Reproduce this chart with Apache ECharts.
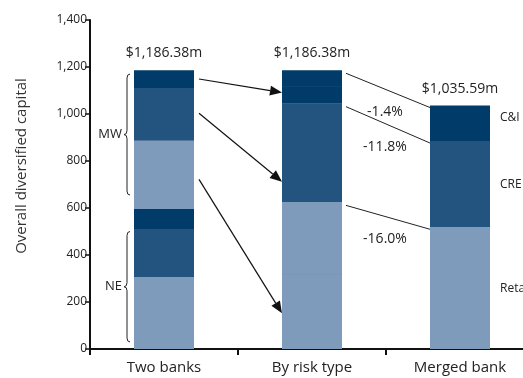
<!DOCTYPE html>
<html>
<head>
<meta charset="utf-8">
<script src="https://cdn.jsdelivr.net/npm/echarts@6/dist/echarts.min.js"></script>
<style>
  html, body { margin: 0; padding: 0; background: #fff; }
  #chart { width: 523px; height: 378px; }
</style>
</head>
<body>
<div id="chart"></div>
<script>
// categories and values
const categories = ["Two banks", "By risk type", "Merged bank"];
const twoBanks = [305, 206, 85, 290, 225, 75];          // NE retail, NE CRE, NE C&I, MW retail, MW CRE, MW C&I
const twoBanksTypes = ["Retail", "CRE", "C&I", "Retail", "CRE", "C&I"];
const byRisk = [318, 306, 214, 206, 72, 70];            // retail NE/MW, CRE NE/MW, C&I NE/MW
const byRiskTypes = ["Retail", "Retail", "CRE", "CRE", "C&I", "C&I"];
const merged = [518, 367, 151];
const mergedTypes = ["Retail", "CRE", "C&I"];
const totals = ["$1,186.38m", "$1,186.38m", "$1,035.59m"];
const changes = ["-1.4%", "-11.8%", "-16.0%"];          // C&I, CRE, Retail
const typeNames = ["C&I", "CRE", "Retail"];
const groups = ["MW", "NE"];
const groupRanges = [[1170, 655], [500, 30]];           // brace spans, in capital units
const arrowsFrom = [1149, 1003, 722];
const arrowsTo = [1091, 712, 152];
const yTitle = "Overall diversified capital";

const colors = { "C&I": "#013b69", "CRE": "#23537f", "Retail": "#7f9bbb" };
const font = "Open Sans";

const chart = echarts.init(document.getElementById("chart"));

function item(v, type, label) {
  if (v == null) return "-";
  const d = { value: v, itemStyle: { color: colors[type] } };
  if (label) {
    d.label = { show: true, position: "top", distance: 10, formatter: label,
      color: "#222", fontSize: 14, fontFamily: font };
  }
  return d;
}

const series = [];
for (let i = 0; i < 6; i++) {
  series.push({
    type: "bar",
    stack: "all",
    barWidth: 60,
    silent: true,
    data: [
      item(twoBanks[i], twoBanksTypes[i], i === 5 ? totals[0] : null),
      item(byRisk[i], byRiskTypes[i], i === 5 ? totals[1] : null),
      item(merged[i], mergedTypes[i], i === merged.length - 1 ? totals[2] : null),
    ],
  });
}

chart.setOption({
  animation: false,
  grid: { left: 90, top: 20, bottom: 29, width: 444, outerBoundsMode: "none", containLabel: false },
  xAxis: {
    type: "category",
    data: categories,
    axisLine: { lineStyle: { color: "#111", width: 2 } },
    axisTick: { show: true, length: 6, lineStyle: { color: "#111", width: 2 } },
    axisLabel: { color: "#222", fontSize: 15, fontFamily: font, margin: 11 },
  },
  yAxis: {
    type: "value",
    min: 0,
    max: 1400,
    interval: 200,
    axisLine: { show: true, lineStyle: { color: "#111", width: 2 } },
    axisTick: { show: true, length: 5, lineStyle: { color: "#111", width: 1.5 } },
    axisLabel: {
      color: "#222", fontSize: 12, fontFamily: font, margin: 3,
      formatter: (v) => v.toLocaleString("en-US"),
    },
    splitLine: { show: false },
  },
  series: series,
});

// annotations, placed through the axes
const px = (c, v) => chart.convertToPixel({ xAxisIndex: 0, yAxisIndex: 0 }, [c, v]);
const half = 30;
const g = [];

// y axis title, set a little above the axis middle as in the original
g.push({ type: "text", silent: true, x: 22, y: 166, rotation: Math.PI / 2,
  style: { text: yTitle, fill: "#333", fontSize: 15, fontFamily: font,
    align: "center", verticalAlign: "middle" } });

function cum(arr) {
  const out = [];
  let s = 0;
  arr.forEach((v) => { s += v; out.push(s); });
  return out;
}
const cumRisk = cum(byRisk);
const cumMerged = cum(merged);

// thin lines between same-type segments in the middle bar
[0, 2, 4].forEach((i) => {
  const p = px(1, cumRisk[i]);
  g.push({ type: "line", silent: true,
    shape: { x1: p[0] - half, y1: p[1], x2: p[0] + half, y2: p[1] },
    style: { stroke: i === 0 ? "#3d6491" : "#063a66", lineWidth: 1 } });
});

// arrows from the two banks to the risk types
for (let i = 0; i < arrowsFrom.length; i++) {
  const a = px(0, arrowsFrom[i]);
  const b = px(1, arrowsTo[i]);
  const x1 = a[0] + half + 5, y1 = a[1];
  const x2 = b[0] - half, y2 = b[1];
  const ang = Math.atan2(y2 - y1, x2 - x1);
  const len = 12, w = 5;
  const bx = x2 - len * Math.cos(ang), by = y2 - len * Math.sin(ang);
  g.push({ type: "line", silent: true,
    shape: { x1: x1, y1: y1, x2: bx, y2: by },
    style: { stroke: "#111", lineWidth: 1.2 } });
  g.push({ type: "polygon", silent: true,
    shape: { points: [[x2, y2],
      [bx + w * Math.sin(ang), by - w * Math.cos(ang)],
      [bx - w * Math.sin(ang), by + w * Math.cos(ang)]] },
    style: { fill: "#111" } });
}

// connectors from risk types to the merged bank, with change labels
const riskTops = [cumRisk[5], cumRisk[3], cumRisk[1]];
const mergedTops = [cumMerged[2], cumMerged[1], cumMerged[0]];
for (let i = 0; i < 3; i++) {
  const a = px(1, riskTops[i]);
  const b = px(2, mergedTops[i]);
  const x1 = a[0] + half + 4, y1 = a[1] + 3;
  const x2 = b[0] - half, y2 = b[1] + 2;
  g.push({ type: "line", silent: true,
    shape: { x1: x1, y1: y1, x2: x2, y2: y2 },
    style: { stroke: "#222", lineWidth: 1 } });
  g.push({ type: "text", silent: true,
    x: (a[0] + b[0]) / 2 - 1, y: (y1 + y2) / 2 + 22,
    style: { text: changes[i], fill: "#222", fontSize: 14, fontFamily: font,
      align: "center", verticalAlign: "middle" } });
}

// type names to the right of the merged bar
const mergedMid = [
  (cumMerged[1] + cumMerged[2]) / 2,
  (cumMerged[0] + cumMerged[1]) / 2,
  cumMerged[0] / 2,
];
for (let i = 0; i < 3; i++) {
  const p = px(2, mergedMid[i]);
  g.push({ type: "text", silent: true,
    x: p[0] + half + 10, y: p[1] - (i === 0 ? 6 : 0),
    style: { text: typeNames[i], fill: "#222", fontSize: 12, fontFamily: font,
      align: "left", verticalAlign: "middle" } });
}

// braces for the two banks
const braceStyle = { stroke: "#222", lineWidth: 1, fill: null };
for (let i = 0; i < groups.length; i++) {
  const t = px(0, groupRanges[i][0]);
  const b = px(0, groupRanges[i][1]);
  const x = t[0] - half - 7;
  const y1 = t[1], y2 = b[1], ym = (y1 + y2) / 2;
  g.push({ type: "bezierCurve", silent: true, style: braceStyle,
    shape: { x1: x + 3, y1: y1, cpx1: x, cpy1: y1, x2: x, y2: y1 + 4 } });
  g.push({ type: "line", silent: true, style: braceStyle,
    shape: { x1: x, y1: y1 + 4, x2: x, y2: ym - 4 } });
  g.push({ type: "bezierCurve", silent: true, style: braceStyle,
    shape: { x1: x, y1: ym - 4, cpx1: x, cpy1: ym, x2: x - 3, y2: ym } });
  g.push({ type: "bezierCurve", silent: true, style: braceStyle,
    shape: { x1: x - 3, y1: ym, cpx1: x, cpy1: ym, x2: x, y2: ym + 4 } });
  g.push({ type: "line", silent: true, style: braceStyle,
    shape: { x1: x, y1: ym + 4, x2: x, y2: y2 - 4 } });
  g.push({ type: "bezierCurve", silent: true, style: braceStyle,
    shape: { x1: x, y1: y2 - 4, cpx1: x, cpy1: y2, x2: x + 3, y2: y2 } });
  g.push({ type: "text", silent: true, x: x - 5, y: ym,
    style: { text: groups[i], fill: "#222", fontSize: 13, fontFamily: font,
      align: "right", verticalAlign: "middle" } });
}

chart.setOption({ graphic: g });
</script>
</body>
</html>
